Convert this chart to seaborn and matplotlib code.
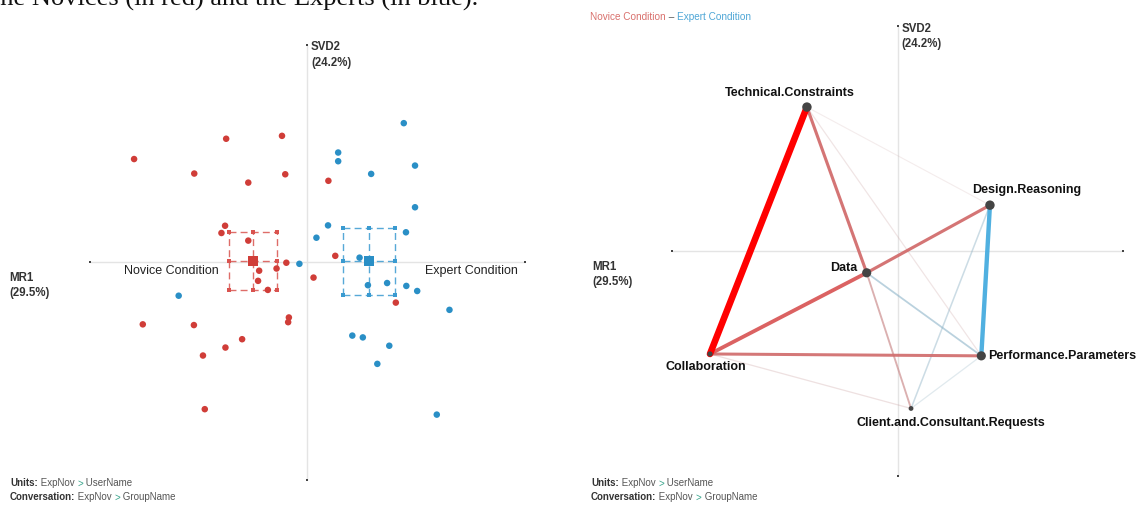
import colorsys

import numpy as np
import pandas as pd
import matplotlib
matplotlib.use("Agg")
import matplotlib.pyplot as plt
import seaborn as sns

# ---------------------------------------------------------------- data
conditions = ["Novice Condition", "Expert Condition"]

novice_x = [-0.477, -0.223, -0.069, -0.311, -0.162, -0.060, 0.059, -0.226, -0.236,
            -0.162, -0.132, -0.084, -0.057, -0.135, -0.108, 0.078, 0.018, 0.245,
            -0.453, -0.312, -0.050, -0.052, -0.179, -0.225, -0.287, -0.282]
novice_y = [0.284, 0.340, 0.348, 0.244, 0.219, 0.242, 0.224, 0.100, 0.080,
            0.059, -0.024, -0.018, -0.002, -0.052, -0.077, 0.017, -0.043, -0.112,
            -0.172, -0.174, -0.153, -0.166, -0.213, -0.236, -0.258, -0.406]

expert_x = [0.267, 0.086, 0.086, 0.177, 0.298, 0.298, 0.058, 0.273, 0.026, -0.021,
            0.145, 0.168, 0.221, 0.274, 0.304, -0.354, 0.393, 0.125, 0.154, 0.227,
            0.194, 0.358]
expert_y = [0.383, 0.302, 0.278, 0.243, 0.266, 0.151, 0.101, 0.082, 0.067, -0.005,
            0.012, -0.064, -0.058, -0.066, -0.080, -0.093, -0.132, -0.203, -0.208,
            -0.231, -0.281, -0.421]

# 95% confidence half-widths of the group means (MR1, SVD2)
novice_ci = [0.066, 0.080]
expert_ci = [0.071, 0.092]

x_axis_label = ["MR1", "(29.5%)"]
y_axis_label = ["SVD2", "(24.2%)"]

node_names = ["Technical.Constraints", "Design.Reasoning", "Data",
              "Collaboration", "Performance.Parameters",
              "Client.and.Consultant.Requests"]
node_x = [-0.241, 0.246, -0.082, -0.499, 0.223, 0.036]
node_y = [0.383, 0.122, -0.058, -0.274, -0.279, -0.419]
node_weight = [1.0, 1.0, 0.95, 0.35, 0.95, 0.3]

# subtracted network: positive = Novice stronger, negative = Expert stronger
edge_source = ["Technical.Constraints", "Collaboration", "Technical.Constraints",
               "Data", "Collaboration", "Design.Reasoning", "Data",
               "Design.Reasoning", "Data", "Technical.Constraints",
               "Technical.Constraints", "Collaboration", "Performance.Parameters"]
edge_target = ["Collaboration", "Data", "Data", "Design.Reasoning",
               "Performance.Parameters", "Performance.Parameters",
               "Performance.Parameters", "Client.and.Consultant.Requests",
               "Client.and.Consultant.Requests", "Design.Reasoning",
               "Performance.Parameters", "Client.and.Consultant.Requests",
               "Client.and.Consultant.Requests"]
edge_weight = [1.0, 0.50, 0.38, 0.38, 0.36, -0.60, -0.14, -0.10, 0.16, 0.02,
               0.04, 0.05, -0.05]

units_line = ["Units:", " ExpNov ", ">", " UserName"]
conversation_line = ["Conversation:", " ExpNov ", ">", " GroupName"]

# ---------------------------------------------------------------- style
RED = "#d03d38"
BLUE = "#2a8fc6"
AXIS_GREY = "#e4e4e4"
TEXT_DARK = "#333333"
W, H = 1139, 505

sns.set_theme(style="white")
plt.rcParams["font.family"] = ["Liberation Sans", "DejaVu Sans"]

fig = plt.figure(figsize=(W / 100, H / 100), dpi=100)
fig.patch.set_facecolor("white")


def px_to_pt(v):
    return v * 72 / 100


def make_axes(left_px, width_px, origin_x, origin_y, scale):
    ax = fig.add_axes([left_px / W, 0, width_px / W, 1])
    ax.set_xlim((left_px - origin_x) / scale, (left_px + width_px - origin_x) / scale)
    ax.set_ylim((origin_y - H) / scale, origin_y / scale)
    ax.set_axis_off()
    return ax


def draw_axes_lines(ax, half=0.6):
    ax.plot([-half, half], [0, 0], color=AXIS_GREY, lw=1.0, zorder=0)
    ax.plot([0, 0], [-half, half], color=AXIS_GREY, lw=1.0, zorder=0)
    ax.scatter([-half, half, 0, 0], [0, 0, -half, half], s=1.5, color="#444444",
               marker="s", linewidths=0, zorder=1)
    ax.annotate("\n".join(y_axis_label), xy=(0, half), xytext=(px_to_pt(4), px_to_pt(3)),
                textcoords="offset points", ha="left", va="top", fontsize=8.3,
                fontweight="bold", color=TEXT_DARK, linespacing=1.35)
    ax.annotate("\n".join(x_axis_label), xy=(-half, 0), xytext=(px_to_pt(-80), px_to_pt(-10)),
                textcoords="offset points", ha="left", va="top", fontsize=8.3,
                fontweight="bold", color=TEXT_DARK, linespacing=1.35)


def text_chain(ax, x_px, y_px, parts, colors, weights, size):
    t = ax.annotate(parts[0], xy=(x_px / W, 1 - y_px / H), xycoords="figure fraction",
                    ha="left", va="baseline", fontsize=size, color=colors[0],
                    fontweight=weights[0], annotation_clip=False)
    for s, c, w in zip(parts[1:], colors[1:], weights[1:]):
        t = ax.annotate(s, xy=(1, 0), xycoords=t, ha="left", va="bottom",
                        fontsize=size, color=c, fontweight=w, annotation_clip=False)


def footer(ax, x_px):
    cols = [TEXT_DARK, "#555555", "#3aa58c", "#555555"]
    wts = ["bold", "normal", "normal", "normal"]
    text_chain(ax, x_px, 486.5, units_line, cols, wts, 7)
    text_chain(ax, x_px, 500.5, conversation_line, cols, wts, 7)


# ---------------------------------------------------------------- left: projected units
axL = make_axes(0, 570, 307, 262, 362.5)
draw_axes_lines(axL)

pts = pd.DataFrame({
    "x": novice_x + expert_x,
    "y": novice_y + expert_y,
    "group": [conditions[0]] * len(novice_x) + [conditions[1]] * len(expert_x),
})
sns.scatterplot(data=pts, x="x", y="y", hue="group", hue_order=conditions,
                palette=[RED, BLUE], s=22, linewidth=0, legend=False, ax=axL, zorder=4)

means = pts.groupby("group", sort=False)[["x", "y"]].mean().reindex(conditions)
cis = {conditions[0]: novice_ci, conditions[1]: expert_ci}
box_colors = {conditions[0]: "#d9534f", conditions[1]: "#3a9ad0"}

for cond in conditions:
    mx, my = means.loc[cond, "x"], means.loc[cond, "y"]
    hx, hy = cis[cond]
    col = box_colors[cond]
    xs = [mx - hx, mx, mx + hx]
    ys = [my - hy, my, my + hy]
    kw = dict(color=col, lw=1.0, ls=(0, (5, 3)), alpha=0.85, zorder=2)
    for yy in ys:
        axL.plot([xs[0], xs[2]], [yy, yy], **kw)
    for xx in xs:
        axL.plot([xx, xx], [ys[0], ys[2]], **kw)
    gx, gy = np.meshgrid(xs, ys)
    axL.scatter(gx.ravel(), gy.ravel(), s=5, marker="s", color=col, linewidths=0, zorder=3)

sns.scatterplot(data=means.reset_index(), x="x", y="y", hue="group", hue_order=conditions,
                palette=[RED, BLUE], marker="s", s=48, linewidth=0, legend=False,
                ax=axL, zorder=5)

axL.annotate(conditions[0], xy=(means.loc[conditions[0], "x"], means.loc[conditions[0], "y"]),
             xytext=(px_to_pt(-34), px_to_pt(-10)), textcoords="offset points",
             ha="right", va="center", fontsize=9, color="#222222")
axL.annotate(conditions[1], xy=(means.loc[conditions[1], "x"], means.loc[conditions[1], "y"]),
             xytext=(px_to_pt(56), px_to_pt(-10)), textcoords="offset points",
             ha="left", va="center", fontsize=9, color="#222222")

footer(axL, 10)

# ---------------------------------------------------------------- right: difference network
axR = make_axes(570, 569, 897.5, 251, 375.8)
draw_axes_lines(axR)

nodes = pd.DataFrame({"name": node_names, "x": node_x, "y": node_y, "w": node_weight})
pos = nodes.set_index("name")[["x", "y"]]


def edge_style(w):
    a = abs(w)
    hue = 0.0 if w > 0 else 200 / 360
    rgb = colorsys.hls_to_rgb(hue, 0.5 + 0.2 * (1 - a), 0.25 + 0.75 * a)
    alpha = min(1.0, 0.12 + 3.5 * a) if a < 0.3 else 0.9 + 0.1 * a
    width = px_to_pt(1.0 + 5.6 * a)
    return rgb, alpha, width


edges = pd.DataFrame({"a": edge_source, "b": edge_target, "w": edge_weight})
edges = edges.reindex(edges["w"].abs().sort_values().index)
for _, e in edges.iterrows():
    rgb, alpha, width = edge_style(e["w"])
    axR.plot([pos.loc[e["a"], "x"], pos.loc[e["b"], "x"]],
             [pos.loc[e["a"], "y"], pos.loc[e["b"], "y"]],
             color=rgb, alpha=alpha, lw=width, solid_capstyle="round", zorder=2)

sns.scatterplot(data=nodes, x="x", y="y", size="w", sizes=(12, 46), color="#444444",
                linewidth=0, legend=False, ax=axR, zorder=4)

label_offsets = {
    "Technical.Constraints": (-17, 14, "center"),
    "Design.Reasoning": (37, 15, "center"),
    "Data": (-9, 5, "right"),
    "Collaboration": (-4, -13, "center"),
    "Performance.Parameters": (7, 0, "left"),
    "Client.and.Consultant.Requests": (40, -15, "center"),
}
for name in node_names:
    dx, dy, ha = label_offsets[name]
    axR.annotate(name, xy=(pos.loc[name, "x"], pos.loc[name, "y"]),
                 xytext=(px_to_pt(dx), px_to_pt(dy)), textcoords="offset points",
                 ha=ha, va="center", fontsize=9, fontweight="bold", color="#111111",
                 annotation_clip=False)

text_chain(axR, 590, 20, [conditions[0], " \u2013 ", conditions[1]],
           ["#d9706c", "#555555", "#4ea6d6"], ["normal", "normal", "normal"], 7.2)
footer(axR, 591)

# running text of the surrounding page, cut by the top edge
fig.text(-7 / W, 1 - 6 / H, "the Novices (in red) and the Experts (in blue).",
         family=["Liberation Serif", "DejaVu Serif"], fontsize=19, color="#111111",
         ha="left", va="baseline")

fig.savefig("out.png", dpi=100, facecolor="white")
